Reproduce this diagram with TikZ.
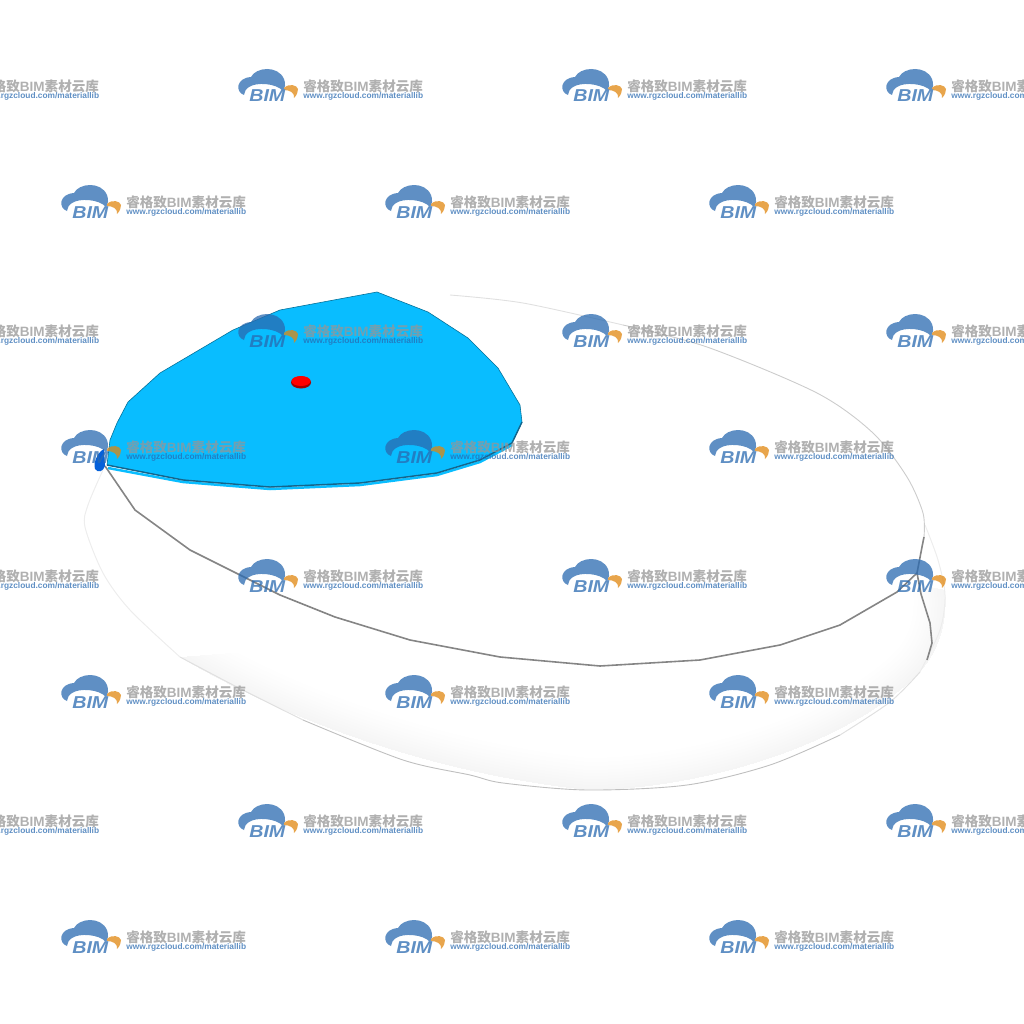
\documentclass[tikz,border=0pt]{standalone}
\usepackage{fontspec}
\setmainfont{Liberation Sans}
\newfontfamily\cjk{Noto Sans CJK SC}

\definecolor{padblue}{HTML}{09BDFF}
\definecolor{padedge}{HTML}{14658C}
\definecolor{markblue}{HTML}{2A6AB0}
\definecolor{markgray}{HTML}{969696}
\definecolor{markorange}{HTML}{E08710}

\tikzset{
  seam/.style={draw=black!48, line width=0.032cm, line join=round},
  rim/.style={draw=black!20, line width=0.018cm, line join=round},
  faintrim/.style={draw=black!7, line width=0.02cm, line join=round},
  haze/.style={draw=black, opacity=0.0035, line join=round, line cap=round},
  marktext/.style={inner sep=0pt, anchor=base west},
  bimmark/.pic={
    \begin{scope}[opacity=0.75, transparency group]
    \fill[markblue] (6,25) .. controls (-3,22) and (-2,8) .. (13,7)
      .. controls (18,-3) and (40,-5) .. (46,9) .. controls (48,14) and (47,18) .. (45,21)
      .. controls (38,13) and (18,12) .. (11,17) .. controls (8,19) and (6,22) .. (6,25) -- cycle;
    \fill[markorange] (46,18) .. controls (51,13) and (59,15) .. (60,19)
      .. controls (60,22) and (59,25) .. (56,28) .. controls (57,23) and (52,20) .. (46,20) -- cycle;
    \node[marktext, font=\bfseries\itshape\fontsize{9.8}{9.8}\selectfont, text=markblue] (-bim) at (11,32) {\scalebox{1.14}[1]{BIM}};
    \node[marktext, font=\bfseries\fontsize{7.7}{7.7}\selectfont, text=markgray] (-title) at (65,21.5) {{\cjk 睿格致}BIM{\cjk 素材云库}};
    \node[marktext, font=\bfseries\fontsize{4.75}{4.75}\selectfont, text=markblue] (-url) at (65,28.5) {www.rgzcloud.com/materiallib};
    \end{scope}
  }
}

\begin{document}
\begin{tikzpicture}[x=0.02cm,y=-0.02cm]
\useasboundingbox (0,0) rectangle (1024,1024);
\clip (0,0) rectangle (1024,1024);

% soft shade inside the lower body
\begin{scope}
\clip (180,657) .. controls (250,700) and (400,770) .. (587,790) .. controls (700,790) and (850,745) .. (920,672)
  .. controls (940,650) and (948,620) .. (945,590) -- (800,560) -- (400,640) -- cycle;
\foreach \w in {4,10,16,22,28,34,40,48,56,64}
  \draw[haze, line width=\w*0.02cm] (180,657)
    .. controls (250,700) and (400,770) .. (587,790) .. controls (700,790) and (850,745) .. (920,672)
    .. controls (940,650) and (948,620) .. (945,590);
\end{scope}

% outer edge of the lower body
\draw[faintrim] plot[smooth] coordinates {(103,470) (88,505) (85,527) (103,573) (130,610) (180,657)};
\draw[faintrim, draw=black!12] plot[smooth] coordinates {(180,657) (237,687) (303,720)};
\draw[rim, draw=black!25] plot[smooth] coordinates {(303,720) (403,760) (470,775) (503,783) (587,790) (687,785) (770,765) (840,735)};
\draw[faintrim, draw=black!12] plot[smooth] coordinates {(840,735) (890,702) (920,672)};
\draw[faintrim] plot[smooth] coordinates {(920,672) (940,630) (945,595) (938,560) (925,525)};

% upper rim
\draw[rim, draw=black!12] plot[smooth] coordinates {(450,295) (523,303) (623,325)};
\draw[rim] plot[smooth] coordinates {(623,325) (707,347) (817,393) (873,433) (907,477) (923,513) (924,537)};

% seam of the front
\coordinate (seamleft) at (105,466);
\coordinate (seamjoin) at (917,573);
\draw[seam] (seamleft) -- (135,510) -- (190,550) -- (280,595) -- (335,617) -- (410,640)
  -- (500,657) -- (600,666) -- (700,660) -- (780,645) -- (840,625) -- (897,592) -- (seamjoin);
\draw[seam] (924,537) -- (922,547) -- (seamjoin) -- (921,594) -- (930,623) -- (932,643) -- (927,660);

% blue pad
\fill[padblue!60!blue!85!black] (104,449) .. controls (98,452) and (93,462) .. (95,469)
  .. controls (98,473) and (103,472) .. (105,466) -- cycle;
\draw[padblue, line width=0.05cm, line join=round] (108,468) -- (183,482) -- (270,489) -- (360,485)
  -- (437,475) -- (480,462) -- (512,445);
\fill[padblue, draw=black!40!padblue, line width=0.012cm, line join=round]
  (377,292) -- (428,312) -- (468,338) -- (498,368) -- (520,405) -- (522,422) -- (512,443)
  -- (480,460) -- (437,473) -- (360,483) -- (270,487) -- (183,480) -- (107,465)
  -- (110,440) -- (117,423) -- (128,402) -- (160,373) -- (233,330) -- (280,310) -- cycle;
\draw[padedge, line width=0.028cm, line join=round] (107,465) -- (183,480) -- (270,487) -- (360,483)
  -- (437,473) -- (480,460) -- (512,443) -- (522,422);

% red dot
\fill[red!65!black] (301,382.5) ellipse (10 and 6);
\fill[red] (301,381) ellipse (9.5 and 5);

% watermark rows
\foreach \y [count=\r] in {70,315,560,805}
  \foreach \x [count=\c] in {-86,238,562,886}
    \pic (a\r\c) at (\x,\y) {bimmark};
\foreach \y [count=\r] in {186,431,676,921}
  \foreach \x [count=\c] in {61,385,709}
    \pic (b\r\c) at (\x,\y) {bimmark};
\end{tikzpicture}
\end{document}
